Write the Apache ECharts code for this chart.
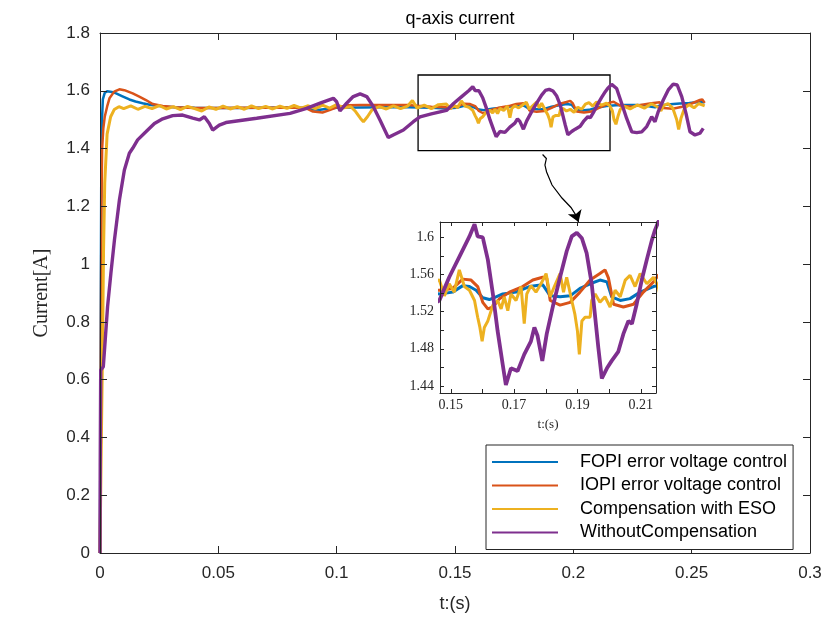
<!DOCTYPE html>
<html>
<head>
<meta charset="utf-8">
<script src="https://cdn.jsdelivr.net/npm/echarts@6/dist/echarts.min.js"></script>
<style>
html,body{margin:0;padding:0;background:#fff;}
#chart{width:826px;height:623px;}
</style>
</head>
<body>
<div id="chart"></div>
<script>
// ---- data (time [s], current [A]) ----
const seriesNames = ['FOPI error voltage control', 'IOPI error voltage control', 'Compensation with ESO', 'WithoutCompensation'];

const fopi = [[0,0],[0.0003,0.8],[0.0006,1.45],[0.0012,1.57],[0.002,1.593],[0.003,1.598],[0.005,1.596],[0.0068,1.591],[0.0095,1.581],[0.0124,1.570],[0.015,1.563],[0.018,1.557],[0.0215,1.551],[0.026,1.546],[0.032,1.543],[0.04,1.541],[0.05,1.540],[0.06,1.540],[0.07,1.541],[0.08,1.542],[0.087,1.540],[0.09,1.535],[0.093,1.534],[0.096,1.538],[0.1,1.541],[0.11,1.542],[0.12,1.543],[0.13,1.543],[0.14,1.541],[0.1464,1.539],[0.1506,1.541],[0.1538,1.548],[0.1559,1.547],[0.158,1.543],[0.1601,1.535],[0.1622,1.533],[0.1643,1.536],[0.1664,1.539],[0.1706,1.541],[0.1748,1.547],[0.179,1.549],[0.1814,1.537],[0.1845,1.536],[0.1877,1.537],[0.1908,1.545],[0.194,1.550],[0.1971,1.554],[0.1993,1.552],[0.2008,1.536],[0.2035,1.532],[0.2066,1.534],[0.2098,1.541],[0.214,1.547],[0.218,1.550],[0.222,1.551],[0.226,1.551],[0.23,1.550],[0.233,1.545],[0.2345,1.543],[0.237,1.550],[0.241,1.553],[0.245,1.556],[0.249,1.558],[0.253,1.561],[0.2555,1.560]];

const iopi = [[0,0],[0.0003,0.6],[0.0006,1.2],[0.0009,1.4],[0.0014,1.47],[0.002,1.51],[0.003,1.545],[0.004,1.574],[0.006,1.597],[0.0082,1.605],[0.0103,1.602],[0.0138,1.591],[0.0166,1.580],[0.0194,1.568],[0.0223,1.554],[0.0265,1.547],[0.032,1.543],[0.04,1.540],[0.05,1.540],[0.06,1.541],[0.07,1.541],[0.08,1.542],[0.087,1.540],[0.09,1.528],[0.094,1.525],[0.097,1.533],[0.1,1.543],[0.105,1.550],[0.11,1.551],[0.12,1.551],[0.13,1.551],[0.134,1.548],[0.14,1.545],[0.1464,1.543],[0.1506,1.545],[0.1538,1.555],[0.1564,1.554],[0.1585,1.547],[0.1601,1.530],[0.1617,1.523],[0.1633,1.525],[0.1654,1.534],[0.1685,1.541],[0.1727,1.547],[0.1759,1.554],[0.179,1.557],[0.1803,1.556],[0.1814,1.532],[0.1845,1.527],[0.1877,1.530],[0.1908,1.541],[0.194,1.554],[0.1971,1.561],[0.1987,1.565],[0.1998,1.556],[0.2014,1.528],[0.2045,1.525],[0.2077,1.528],[0.2108,1.541],[0.214,1.552],[0.2155,1.559],[0.217,1.562],[0.22,1.548],[0.225,1.545],[0.229,1.552],[0.233,1.557],[0.2365,1.560],[0.238,1.540],[0.242,1.538],[0.246,1.545],[0.25,1.556],[0.2535,1.568],[0.2545,1.570],[0.2555,1.558]];

const eso = [[0,0],[0.0005,0.35],[0.001,0.66],[0.0015,1.05],[0.002,1.28],[0.003,1.45],[0.0045,1.51],[0.006,1.535],[0.008,1.545],[0.010,1.538],[0.013,1.548],[0.016,1.536],[0.019,1.546],[0.022,1.538],[0.025,1.549],[0.028,1.537],[0.031,1.545],[0.034,1.535],[0.037,1.546],[0.040,1.538],[0.043,1.530],[0.046,1.544],[0.049,1.536],[0.052,1.547],[0.055,1.537],[0.058,1.545],[0.061,1.536],[0.064,1.548],[0.067,1.538],[0.070,1.546],[0.073,1.537],[0.076,1.547],[0.079,1.539],[0.082,1.549],[0.085,1.540],[0.088,1.548],[0.091,1.538],[0.094,1.550],[0.097,1.540],[0.100,1.552],[0.103,1.541],[0.106,1.545],[0.108,1.528],[0.110,1.505],[0.1113,1.493],[0.113,1.510],[0.115,1.535],[0.118,1.545],[0.121,1.537],[0.124,1.548],[0.127,1.538],[0.130,1.547],[0.132,1.566],[0.134,1.540],[0.137,1.550],[0.140,1.538],[0.143,1.552],[0.1464,1.554],[0.148,1.537],[0.1495,1.550],[0.1511,1.541],[0.1527,1.565],[0.1543,1.547],[0.1559,1.543],[0.1575,1.532],[0.1585,1.514],[0.1592,1.503],[0.1599,1.488],[0.1606,1.503],[0.1617,1.510],[0.1633,1.527],[0.1648,1.532],[0.1659,1.523],[0.1669,1.536],[0.168,1.521],[0.169,1.539],[0.1706,1.532],[0.1722,1.547],[0.1732,1.507],[0.174,1.539],[0.1753,1.548],[0.1769,1.541],[0.1785,1.550],[0.1801,1.561],[0.1814,1.536],[0.1827,1.547],[0.1845,1.561],[0.1856,1.541],[0.1866,1.557],[0.1882,1.532],[0.1892,1.517],[0.1900,1.499],[0.1906,1.474],[0.1914,1.510],[0.1924,1.514],[0.194,1.514],[0.1945,1.532],[0.1956,1.539],[0.1971,1.530],[0.1987,1.536],[0.2003,1.525],[0.2019,1.543],[0.2035,1.536],[0.2051,1.554],[0.2066,1.559],[0.2082,1.547],[0.2098,1.561],[0.2119,1.550],[0.214,1.557],[0.2155,1.547],[0.2165,1.530],[0.2172,1.500],[0.218,1.484],[0.2188,1.510],[0.2198,1.535],[0.221,1.548],[0.224,1.537],[0.227,1.551],[0.23,1.540],[0.233,1.555],[0.236,1.542],[0.237,1.530],[0.238,1.548],[0.240,1.556],[0.242,1.540],[0.2437,1.500],[0.2445,1.466],[0.2455,1.505],[0.247,1.540],[0.249,1.552],[0.251,1.541],[0.253,1.556],[0.2555,1.548]];

const noComp = [[0,0],[0.0001,0.3],[0.0003,0.633],[0.0014,0.645],[0.0022,0.737],[0.0032,0.853],[0.0046,0.968],[0.0061,1.083],[0.0082,1.222],[0.0103,1.326],[0.0124,1.384],[0.0138,1.401],[0.0159,1.430],[0.0194,1.458],[0.023,1.487],[0.0265,1.503],[0.0307,1.514],[0.0349,1.516],[0.0392,1.505],[0.042,1.499],[0.0441,1.510],[0.0462,1.487],[0.0476,1.464],[0.0504,1.481],[0.0532,1.490],[0.0662,1.505],[0.0803,1.522],[0.0873,1.539],[0.093,1.557],[0.0986,1.574],[0.1000,1.562],[0.1014,1.530],[0.1042,1.557],[0.1070,1.580],[0.1099,1.589],[0.1127,1.580],[0.1155,1.545],[0.1183,1.499],[0.1218,1.438],[0.1239,1.447],[0.1282,1.464],[0.1324,1.493],[0.1352,1.510],[0.140,1.520],[0.1464,1.532],[0.1495,1.557],[0.1527,1.579],[0.1559,1.601],[0.1575,1.614],[0.1585,1.601],[0.1601,1.600],[0.1617,1.576],[0.1633,1.539],[0.1648,1.499],[0.1664,1.463],[0.1674,1.441],[0.169,1.459],[0.1711,1.456],[0.1732,1.474],[0.1753,1.488],[0.1764,1.503],[0.1774,1.494],[0.1789,1.467],[0.1803,1.496],[0.1824,1.528],[0.1845,1.557],[0.1866,1.585],[0.1882,1.601],[0.1898,1.605],[0.1914,1.599],[0.1929,1.583],[0.1945,1.550],[0.1956,1.514],[0.1966,1.481],[0.1977,1.448],[0.1993,1.459],[0.2008,1.467],[0.2029,1.477],[0.2045,1.496],[0.2061,1.510],[0.2072,1.507],[0.2087,1.528],[0.2103,1.554],[0.2119,1.576],[0.2135,1.597],[0.2145,1.608],[0.2162,1.622],[0.2183,1.608],[0.2204,1.557],[0.2225,1.505],[0.2247,1.458],[0.2268,1.455],[0.2289,1.458],[0.231,1.476],[0.2331,1.510],[0.2345,1.493],[0.2359,1.528],[0.238,1.568],[0.2401,1.603],[0.2422,1.623],[0.2439,1.620],[0.2458,1.580],[0.2476,1.522],[0.2493,1.458],[0.2514,1.447],[0.2535,1.453],[0.2549,1.470]];

// axes / annotation definitions
const mainX = {min: 0, max: 0.3, interval: 0.05};
const mainY = {min: 0, max: 1.8, interval: 0.2};
const insetX = {min: 0.1466, max: 0.2148};
const insetY = {min: 1.4324, max: 1.6165};
const insetXTicks = [0.15, 0.16, 0.17, 0.18, 0.19, 0.20, 0.21];
const insetXLabels = [0.15, 0.17, 0.19, 0.21];
const insetYTicks = [1.44, 1.46, 1.48, 1.50, 1.52, 1.54, 1.56, 1.58, 1.60];
const insetYLabels = [1.44, 1.48, 1.52, 1.56, 1.60];
const zoomBox = [[0.1344, 1.6546], [0.2155, 1.393]];
const arrowPath = [[0.1870,1.3794],[0.1886,1.3655],[0.1880,1.3430],[0.1887,1.3188],[0.1910,1.2738],[0.1952,1.2288],[0.1990,1.1960],[0.2012,1.1680]];
const arrowHead = [[0.2012,1.1680],[0.2022,1.1460]];

const colors = ['#0072BD', '#D95319', '#EDB120', '#7E2F8E'];
const dataSets = [fopi, iopi, eso, noComp];
const mainWidths = [2.5, 2.5, 3, 3.4];
const insetWidths = [3, 3, 3, 3.8];

const axisColor = '#262626';
const sans = "'Liberation Sans', Arial, sans-serif";
const serif = "'Liberation Serif', 'Times New Roman', serif";
const fmt = v => String(parseFloat((+v).toFixed(3)));

function boxAxis(gridIndex, pos, ext, tickLen, extra) {
  return Object.assign({
    type: 'value', gridIndex: gridIndex, position: pos,
    min: ext.min, max: ext.max, z: 20,
    axisLine: {show: true, onZero: false, lineStyle: {color: axisColor, width: 1}},
    axisTick: {show: true, inside: true, length: tickLen, lineStyle: {color: axisColor, width: 1}},
    axisLabel: {show: false},
    splitLine: {show: false}
  }, extra || {});
}

const chart = echarts.init(document.getElementById('chart'), null, {renderer: 'canvas'});

const xAxes = [
  boxAxis(0, 'bottom', mainX, 7, {
    interval: mainX.interval,
    axisLabel: {show: true, color: axisColor, fontFamily: sans, fontSize: 17, margin: 12, formatter: fmt},
    name: 't:(s)', nameLocation: 'middle', nameGap: 42,
    nameTextStyle: {color: axisColor, fontFamily: sans, fontSize: 18}
  }),
  boxAxis(0, 'top', mainX, 7, {interval: mainX.interval}),
  boxAxis(1, 'bottom', insetX, 4, {
    axisTick: {show: true, inside: true, length: 4, customValues: insetXTicks, lineStyle: {color: axisColor}},
    axisLabel: {show: true, customValues: insetXLabels, color: axisColor, fontFamily: serif, fontSize: 14, margin: 5, formatter: fmt},
    name: 't:(s)', nameLocation: 'middle', nameGap: 25,
    nameTextStyle: {color: axisColor, fontFamily: serif, fontSize: 13}
  }),
  boxAxis(1, 'top', insetX, 4, {
    axisTick: {show: true, inside: true, length: 4, customValues: insetXTicks, lineStyle: {color: axisColor}}
  })
];
const yAxes = [
  boxAxis(0, 'left', mainY, 7, {
    interval: mainY.interval,
    axisLabel: {show: true, color: axisColor, fontFamily: sans, fontSize: 17, margin: 10, formatter: fmt},
    name: 'Current[A]', nameLocation: 'middle', nameGap: 48, nameRotate: 90,
    nameTextStyle: {color: axisColor, fontFamily: serif, fontSize: 20}
  }),
  boxAxis(0, 'right', mainY, 7, {interval: mainY.interval}),
  boxAxis(1, 'left', insetY, 4, {
    axisTick: {show: true, inside: true, length: 4, customValues: insetYTicks, lineStyle: {color: axisColor}},
    axisLabel: {show: true, customValues: insetYLabels, color: axisColor, fontFamily: serif, fontSize: 14, margin: 6, formatter: fmt}
  }),
  boxAxis(1, 'right', insetY, 4, {
    axisTick: {show: true, inside: true, length: 4, customValues: insetYTicks, lineStyle: {color: axisColor}}
  })
];

const series = [];
dataSets.forEach((d, i) => {
  series.push({
    name: seriesNames[i], type: 'line', xAxisIndex: 0, yAxisIndex: 0,
    data: d, showSymbol: false, symbol: 'none', clip: true,
    lineStyle: {color: colors[i], width: mainWidths[i]},
    itemStyle: {color: colors[i]}, z: 2 + i
  });
});
dataSets.forEach((d, i) => {
  series.push({
    name: seriesNames[i], type: 'line', xAxisIndex: 2, yAxisIndex: 2,
    data: d.filter(p => p[0] >= 0.13 && p[0] <= 0.222), showSymbol: false, symbol: 'none', clip: true,
    lineStyle: {color: colors[i], width: insetWidths[i]},
    itemStyle: {color: colors[i]}, z: 12 + i
  });
});
// zoom rectangle on the main plot
series.push({
  name: 'zoomBox', type: 'line', xAxisIndex: 0, yAxisIndex: 0, data: [], silent: true,
  markArea: {silent: true, itemStyle: {color: 'rgba(0,0,0,0)', borderColor: '#000', borderWidth: 1.3},
    data: [[{coord: zoomBox[0]}, {coord: zoomBox[1]}]]}
});
// curved arrow body
series.push({
  name: 'arrow', type: 'lines', coordinateSystem: 'cartesian2d', xAxisIndex: 0, yAxisIndex: 0,
  polyline: true, silent: true, z: 30,
  lineStyle: {color: '#000', width: 1.2, opacity: 1},
  data: [{coords: arrowPath}]
});
// arrow head
series.push({
  name: 'arrowHead', type: 'lines', coordinateSystem: 'cartesian2d', xAxisIndex: 0, yAxisIndex: 0,
  silent: true, z: 31,
  symbol: ['none', 'arrow'], symbolSize: 11,
  lineStyle: {color: '#000', width: 1.2, opacity: 1, curveness: 0},
  data: [{coords: arrowHead}]
});

chart.setOption({
  animation: false,
  backgroundColor: '#fff',
  color: colors,
  title: {
    text: 'q-axis current', left: 455, top: 5, textAlign: 'center',
    textStyle: {fontFamily: sans, fontSize: 18, fontWeight: 'normal', color: '#000'}
  },
  grid: [
    {left: 100, top: 33, right: 16, bottom: 70, show: false},
    {left: 440, top: 222, width: 216, height: 171, show: true, backgroundColor: '#fff', borderWidth: 0, z: 1}
  ],
  xAxis: xAxes,
  yAxis: yAxes,
  legend: {
    data: seriesNames, orient: 'vertical', left: 486, top: 445,
    itemWidth: 66, itemHeight: 2, icon: 'rect', itemGap: 5.5,
    padding: [8, 6, 8, 6],
    backgroundColor: '#fff', borderColor: axisColor, borderWidth: 1, z: 40,
    textStyle: {fontFamily: sans, fontSize: 18, color: '#000', padding: [0, 0, 0, 17], lineHeight: 18}
  },
  series: series
});
</script>
</body>
</html>
